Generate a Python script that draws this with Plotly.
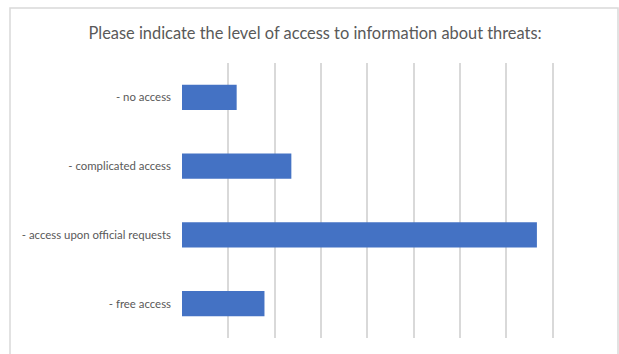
import plotly.graph_objects as go

# Survey answers and their shares
categories = [
    "- no access",
    "- complicated access",
    "- access upon official requests",
    "- free access",
]
values = [5.9, 11.8, 38.3, 8.9]

title_text = "Please indicate the level of access to information about threats:"

bar_color = "#4472C4"
text_color = "#595959"
grid_color = "#D9D9D9"
font_family = "Lato, Open Sans, sans-serif"

fig = go.Figure(
    go.Bar(
        x=values,
        y=categories,
        orientation="h",
        marker=dict(color=bar_color, line=dict(width=0)),
        hoverinfo="x+y",
    )
)

W, H = 619, 354
L, R, T, B = 182, 20, 63, 16
pw = W - L - R
ph = H - T - B


def px_x(x):
    return (x - L) / pw


def px_y(y):
    return (H - B - y) / ph


fig.update_layout(
    width=W,
    height=H,
    margin=dict(l=L, r=R, t=T, b=B),
    paper_bgcolor="white",
    plot_bgcolor="white",
    bargap=0.635,
    showlegend=False,
    font=dict(family=font_family, color=text_color, size=11.4),
    title=dict(
        text=title_text,
        font=dict(family=font_family, size=16.4, color=text_color),
        xref="container",
        yref="container",
        x=0.509,
        y=1 - 33 / H,
        xanchor="center",
        yanchor="middle",
    ),
    xaxis=dict(
        range=[0, 45],
        dtick=5,
        showgrid=True,
        gridcolor=grid_color,
        gridwidth=1.5,
        showticklabels=False,
        zeroline=False,
        showline=False,
        fixedrange=True,
    ),
    yaxis=dict(
        autorange="reversed",
        showgrid=False,
        showline=False,
        ticks="",
        ticklabelstandoff=10,
        tickfont=dict(family=font_family, size=11.4, color=text_color),
        fixedrange=True,
    ),
    shapes=[
        dict(
            type="rect",
            xref="paper",
            yref="paper",
            x0=px_x(10),
            x1=px_x(618),
            y0=px_y(H + 10),
            y1=px_y(8),
            line=dict(color=grid_color, width=1.5),
            fillcolor="rgba(0,0,0,0)",
            layer="below",
        )
    ],
)

fig.write_html("out.html")
